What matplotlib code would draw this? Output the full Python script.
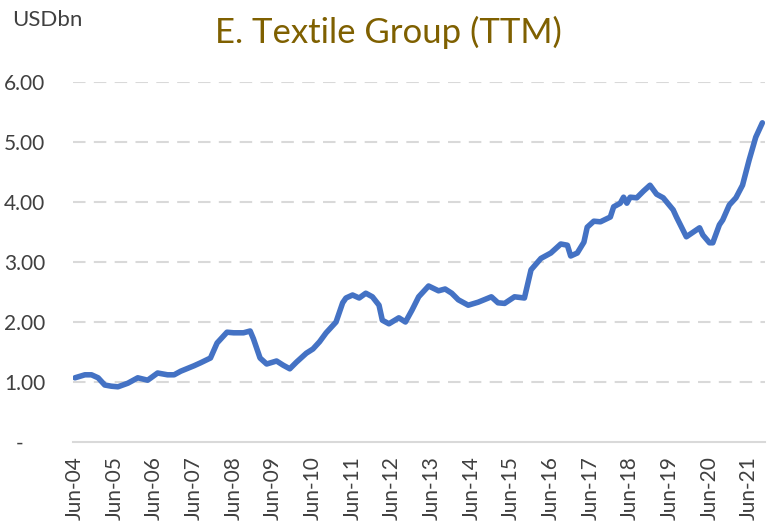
import matplotlib
matplotlib.use("Agg")
import matplotlib.pyplot as plt
from matplotlib.ticker import FixedLocator, FuncFormatter

# TTM revenue, USD bn at irregular month points
dates = [
    "2004-06", "2004-09", "2004-11", "2005-01", "2005-03", "2005-05", "2005-07", "2005-10",
    "2006-01", "2006-04", "2006-07", "2006-10", "2006-12", "2007-02", "2007-06", "2007-08",
    "2007-11", "2008-01", "2008-04", "2008-06", "2008-09", "2008-11", "2008-12", "2009-02",
    "2009-04", "2009-07", "2009-09", "2009-11", "2010-01", "2010-04", "2010-06", "2010-08",
    "2010-10", "2011-01", "2011-03", "2011-04", "2011-06", "2011-08", "2011-10", "2011-12",
    "2012-02", "2012-03", "2012-05", "2012-08", "2012-10", "2012-12", "2013-02", "2013-05",
    "2013-08", "2013-10", "2013-12", "2014-02", "2014-05", "2014-08", "2014-12", "2015-02",
    "2015-04", "2015-07", "2015-10", "2015-12", "2016-03", "2016-06", "2016-09", "2016-11",
    "2016-12", "2017-02", "2017-04", "2017-05", "2017-07", "2017-09", "2017-12", "2018-01",
    "2018-03", "2018-04", "2018-05", "2018-06", "2018-08", "2018-10", "2018-12", "2019-02",
    "2019-04", "2019-07", "2019-08", "2019-11", "2020-03", "2020-04", "2020-06", "2020-07",
    "2020-09", "2020-10", "2020-12", "2021-02", "2021-04", "2021-06", "2021-08", "2021-10",
]
values = [
    1.07, 1.12, 1.12, 1.07, 0.95, 0.93, 0.92, 0.98,
    1.07, 1.03, 1.15, 1.12, 1.12, 1.18, 1.27, 1.32,
    1.40, 1.65, 1.83, 1.82, 1.82, 1.85, 1.72, 1.40,
    1.30, 1.35, 1.28, 1.22, 1.33, 1.48, 1.55, 1.67,
    1.82, 2.00, 2.32, 2.40, 2.45, 2.40, 2.48, 2.42,
    2.28, 2.03, 1.97, 2.07, 2.00, 2.20, 2.42, 2.60,
    2.52, 2.55, 2.48, 2.37, 2.28, 2.33, 2.42, 2.32,
    2.31, 2.42, 2.40, 2.87, 3.06, 3.15, 3.30, 3.28,
    3.10, 3.15, 3.33, 3.58, 3.68, 3.67, 3.75, 3.92,
    3.98, 4.08, 3.98, 4.08, 4.07, 4.18, 4.28, 4.13,
    4.07, 3.87, 3.75, 3.42, 3.57, 3.45, 3.32, 3.32,
    3.62, 3.70, 3.95, 4.07, 4.28, 4.70, 5.08, 5.32,
]
tick_years = list(range(2004, 2022))
y_ticks = [0, 1, 2, 3, 4, 5, 6]


def month_index(d):
    y, m = d.split("-")
    return (int(y) - 2004) * 12 + int(m) - 6


plt.rcParams["font.family"] = ["Lato", "DejaVu Sans"]

fig = plt.figure(figsize=(7.76, 5.26), dpi=100)
ax = fig.add_axes([73 / 776, 84 / 526, 692 / 776, 360 / 526])

x = [month_index(d) for d in dates]
ax.plot(x, values, color="#4472C4", lw=4, solid_capstyle="round", solid_joinstyle="round")

ax.set_ylim(0, 6)
ax.set_xlim(-0.6, 208.8)
ax.yaxis.set_major_locator(FixedLocator(y_ticks))
ax.yaxis.set_major_formatter(FuncFormatter(lambda v, p: "-    " if v == 0 else f"{v:.2f}"))
ax.set_xticks([(yr - 2004) * 12 for yr in tick_years])
ax.set_xticklabels([f"Jun-{yr % 100:02d}" for yr in tick_years], rotation=90)

ax.grid(axis="y", color="#D9D9D9", lw=1.5, dashes=(6, 4))
ax.grid(axis="x", visible=False)
for g in ax.get_ygridlines()[:1]:
    g.set_visible(False)
for s in ["left", "right", "top"]:
    ax.spines[s].set_visible(False)
ax.spines["bottom"].set_color("#D9D9D9")
ax.spines["bottom"].set_linewidth(1.5)
ax.tick_params(axis="both", length=0, labelsize=15, labelcolor="#404040")
ax.tick_params(axis="y", pad=20)
ax.tick_params(axis="x", pad=10)

fig.text(388 / 776, 1 - 32 / 526, "E. Textile Group (TTM)", color="#7F6000",
         fontsize=25, ha="center", va="center")
fig.text(12 / 776, 1 - 20 / 526, "USDbn", color="#404040", fontsize=16, ha="left", va="center")

fig.savefig("out.png", dpi=100)
